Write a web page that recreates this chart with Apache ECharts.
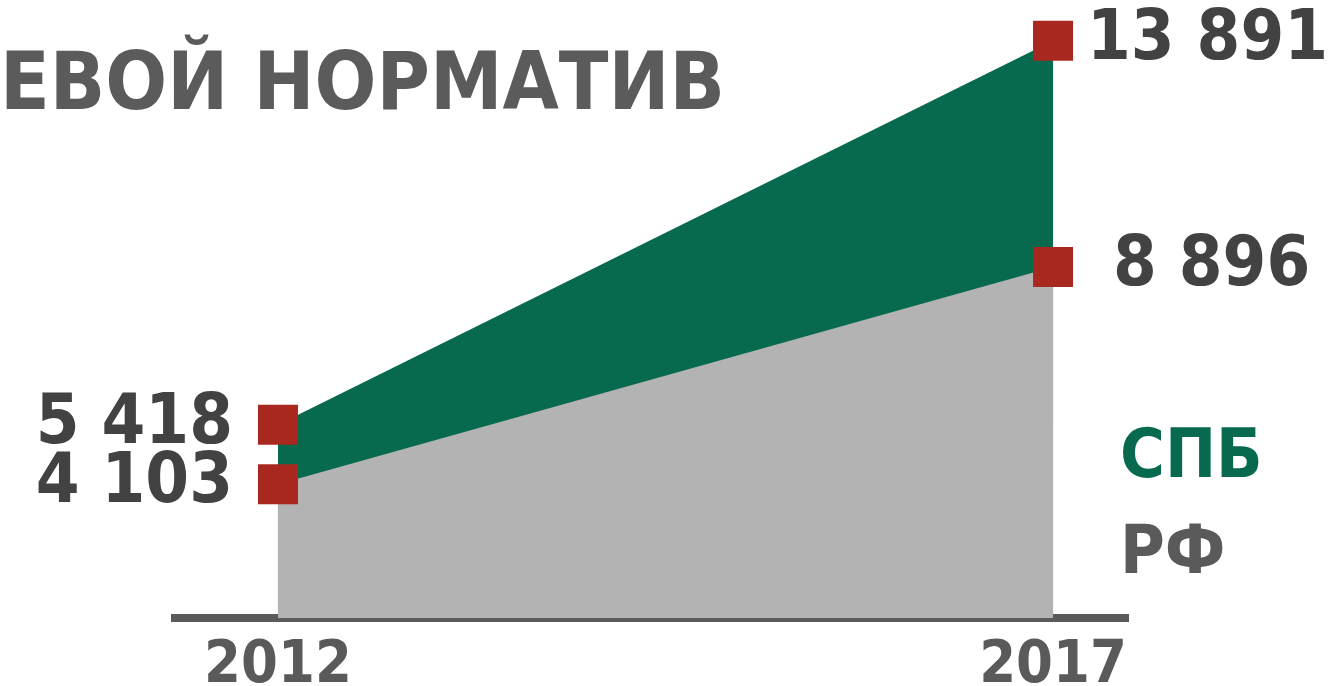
<!DOCTYPE html>
<html>
<head>
<meta charset="utf-8">
<style>
  html, body { margin: 0; padding: 0; background: #fff; }
  #chart { width: 1337px; height: 686px; }
</style>
<script src="https://cdn.jsdelivr.net/npm/echarts@6/dist/echarts.min.js"></script>
</head>
<body>
<div id="chart"></div>
<script>
// years and values as printed on the picture
var years = [2012, 2017];
var spbValues = [5418, 13891];
var rfValues = [4103, 8896];
var seriesNames = ['СПБ', 'РФ'];
var titleText = 'ЕВОЙ НОРМАТИВ';

var font = 'DejaVu Sans Condensed';
var green = '#076a4f';
var grey = '#b3b3b3';
var red = '#a8281f';
var dark = '#424242';
var axisGrey = '#5a5a5a';

function fmt(v) {
    return String(v).replace(/\B(?=(\d{3})+(?!\d))/g, ' ');
}

function pairs(vals, distLeft, distRight) {
    return years.map(function (y, i) {
        var first = i === 0;
        return {
            value: [y, vals[i]],
            label: {
                position: first ? 'left' : 'right',
                distance: first ? distLeft : distRight
            }
        };
    });
}

var valueLabel = {
    show: true,
    fontFamily: font,
    fontWeight: 'bold',
    fontSize: 70,
    color: dark,
    formatter: function (p) { return fmt(p.value[1]); }
};

var myChart = echarts.init(document.getElementById('chart'));
var option = {
    animation: false,
    title: {
        text: titleText,
        left: 0,
        top: 47,
        padding: 0,
        textStyle: {
            fontFamily: font,
            fontWeight: 'bold',
            fontSize: 81,
            color: '#5b5b5b'
        }
    },
    legend: {
        data: [
            { name: seriesNames[0], textStyle: { color: green } },
            { name: seriesNames[1], textStyle: { color: axisGrey } }
        ],
        orient: 'vertical',
        left: 1110,
        top: 420,
        itemWidth: 0,
        itemHeight: 0,
        itemGap: 28,
        icon: 'rect',
        selectedMode: false,
        textStyle: {
            fontFamily: font,
            fontWeight: 'bold',
            fontSize: 68
        }
    },
    grid: {
        left: 171,
        right: 208,
        top: 0,
        bottom: 68,
        outerBoundsMode: 'none',
        containLabel: false
    },
    xAxis: {
        type: 'value',
        min: 2011.31,
        max: 2017.49,
        axisLine: { show: true, lineStyle: { color: axisGrey, width: 8, cap: 'butt' } },
        axisTick: { show: false },
        splitLine: { show: false },
        axisLabel: {
            customValues: years,
            margin: 19,
            fontFamily: font,
            fontWeight: 'bold',
            fontSize: 59,
            color: axisGrey,
            formatter: function (v) { return String(v); }
        }
    },
    yAxis: {
        type: 'value',
        min: 1150,
        max: 14790,
        show: false,
        splitLine: { show: false }
    },
    series: [
        {
            name: seriesNames[0],
            type: 'line',
            data: pairs(spbValues, 25, 14),
            symbol: 'rect',
            symbolSize: 40,
            itemStyle: { color: red },
            lineStyle: { width: 0, color: green },
            areaStyle: { color: green, opacity: 1 },
            label: valueLabel
        },
        {
            name: seriesNames[1],
            type: 'line',
            data: pairs(rfValues, 25, 40),
            symbol: 'rect',
            symbolSize: 40,
            itemStyle: { color: red },
            lineStyle: { width: 0, color: grey },
            areaStyle: { color: grey, opacity: 1 },
            label: valueLabel
        }
    ]
};
myChart.setOption(option);
</script>
</body>
</html>
